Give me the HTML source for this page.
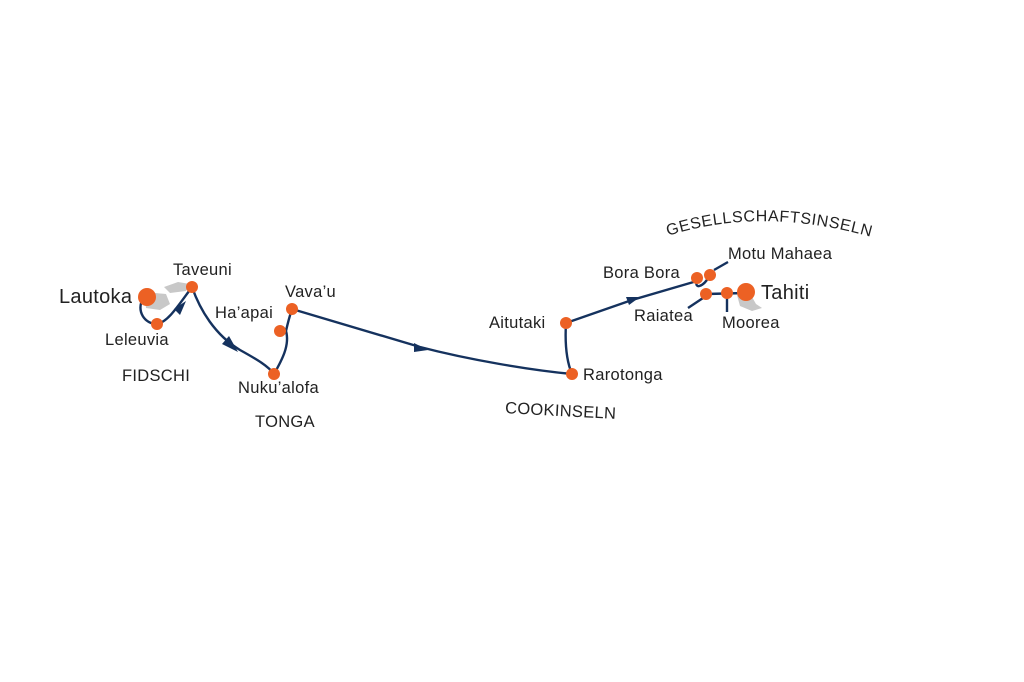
<!DOCTYPE html>
<html><head><meta charset="utf-8"><style>
html,body{margin:0;padding:0;background:#fff;}
svg{display:block;font-family:"Liberation Sans",sans-serif;}
text{fill:#222;font-size:16.5px;letter-spacing:0.3px;}
</style></head><body>
<svg width="1024" height="682" viewBox="0 0 1024 682" xmlns="http://www.w3.org/2000/svg">
<defs><path id="arc" d="M668,236 Q772,202 900,246"/></defs>
<!-- islands -->
<path d="M144,292 L166,294 L170,304 L160,310 L146,308 Z" fill="#c8c8c8"/>
<path d="M164,287 L178,282 L190,284 L186,291 L170,293 Z" fill="#c8c8c8"/>
<path d="M737,295 L752,297 L756,304 L762,308 L752,311 L740,306 Z" fill="#c8c8c8"/>
<!-- route -->
<g fill="none" stroke="#15325e" stroke-width="2.4">
<path d="M143,298 C136,312 145,324 157,324 C168,322 178,306 192,287"/>
<path d="M192,287 C200,310 215,335 240,350 C258,360 268,366 274,374"/>
<path d="M274,374 C282,360 290,345 286,331 C288,322 290,315 292,309"/>
<path d="M292,309 L420,347 C470,360 530,370 572,374"/>
<path d="M572,374 C566,360 565,340 566,323 L632,300 L697,281"/>
<path d="M697,281 C694,289 703,288 710,275"/>
<path d="M706,294 L746,293"/>
<path d="M714,270 L728,262 M703,298 L688,308 M727,298 L727,312"/>
</g>
<g fill="#15325e">
<polygon points="186,301 174,309 180,315"/>
<polygon points="238,352 229,336 222,344"/>
<polygon points="428,350 414,343 414,352"/>
<polygon points="640,297 626,297 629,305"/>
</g>
<!-- dots -->
<g fill="#ec6124">
<circle cx="147" cy="297" r="9"/>
<circle cx="157" cy="324" r="6"/>
<circle cx="192" cy="287" r="6"/>
<circle cx="280" cy="331" r="6"/>
<circle cx="292" cy="309" r="6"/>
<circle cx="274" cy="374" r="6"/>
<circle cx="566" cy="323" r="6"/>
<circle cx="572" cy="374" r="6"/>
<circle cx="697" cy="278" r="6"/>
<circle cx="710" cy="275" r="6"/>
<circle cx="706" cy="294" r="6"/>
<circle cx="727" cy="293" r="6"/>
<circle cx="746" cy="292" r="9"/>
</g>
<!-- labels -->
<text x="59" y="303" style="font-size:20px">Lautoka</text>
<text x="173" y="275">Taveuni</text>
<text x="105" y="345">Leleuvia</text>
<text x="122" y="381">FIDSCHI</text>
<text x="285" y="297">Vava’u</text>
<text x="215" y="318">Ha’apai</text>
<text x="238" y="393">Nuku’alofa</text>
<text x="255" y="427">TONGA</text>
<text x="489" y="328">Aitutaki</text>
<text x="583" y="380">Rarotonga</text>
<text x="505" y="416" transform="rotate(3 560 412)">COOKINSELN</text>
<text style="font-size:16px;letter-spacing:0.6px"><textPath href="#arc">GESELLSCHAFTSINSELN</textPath></text>
<text x="603" y="278">Bora Bora</text>
<text x="728" y="259">Motu Mahaea</text>
<text x="761" y="299" style="font-size:20px">Tahiti</text>
<text x="634" y="321">Raiatea</text>
<text x="722" y="328">Moorea</text>
</svg>
</body></html>
